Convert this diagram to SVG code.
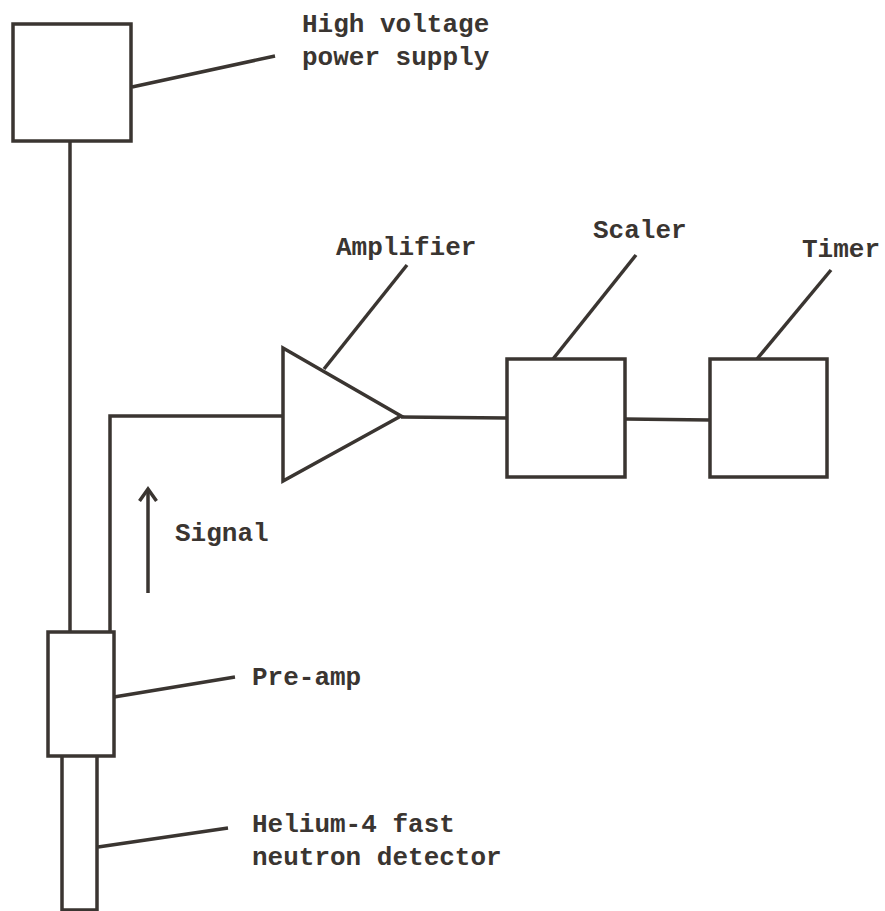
<svg xmlns="http://www.w3.org/2000/svg" width="885" height="911" viewBox="0 0 885 911">
<defs>
<style>
.box{fill:none;stroke:#3a3531;stroke-width:3.5;stroke-linejoin:miter}
.ln{fill:none;stroke:#3a3531;stroke-width:3.5;stroke-linecap:butt}
.lbl{font-family:"Liberation Mono","DejaVu Sans Mono",monospace;font-size:26px;font-weight:bold;fill:#3a3531}
</style>
<marker id="arr" viewBox="0 0 20 20" refX="15" refY="10" markerWidth="20" markerHeight="20" markerUnits="userSpaceOnUse" orient="auto">
<path d="M3,1.5 L15,10 L3,18.5" fill="none" stroke="#3a3531" stroke-width="3.5" stroke-linejoin="miter"/>
</marker>
</defs>
<rect width="885" height="911" fill="#ffffff"/>
<g id="connectors">
<line class="ln" x1="70" y1="141" x2="70" y2="632"/>
<polyline class="ln" points="110,632 110,416 283,416"/>
<line class="ln" x1="401" y1="417" x2="507" y2="418"/>
<line class="ln" x1="625" y1="419" x2="710" y2="420"/>
<line class="ln" x1="148" y1="593" x2="148" y2="489" marker-end="url(#arr)"/>
<line class="ln" x1="132" y1="87" x2="275" y2="56"/>
<line class="ln" x1="324" y1="369" x2="407" y2="265"/>
<line class="ln" x1="553" y1="359" x2="636" y2="255"/>
<line class="ln" x1="757" y1="359" x2="831" y2="270"/>
<line class="ln" x1="114" y1="697" x2="235" y2="677"/>
<line class="ln" x1="98" y1="847" x2="228" y2="828"/>
</g>
<g id="hv">
<rect class="box" x="13" y="24" width="118" height="117"/>
<text class="lbl" x="302" y="32">High voltage</text>
<text class="lbl" x="302" y="65">power supply</text>
</g>
<g id="amplifier">
<polygon class="box" points="283,348 283,481 401,416"/>
<text class="lbl" x="336" y="255">Amplifier</text>
</g>
<g id="scaler">
<rect class="box" x="507" y="359" width="118" height="118"/>
<text class="lbl" x="593" y="238">Scaler</text>
</g>
<g id="timer">
<rect class="box" x="710" y="359" width="117" height="118"/>
<text class="lbl" x="802" y="257">Timer</text>
</g>
<g id="signal">
<text class="lbl" x="175" y="541">Signal</text>
</g>
<g id="preamp">
<rect class="box" x="48" y="632" width="66" height="124"/>
<text class="lbl" x="252" y="685">Pre-amp</text>
</g>
<g id="detector">
<polyline class="box" points="62,756 62,910 97,910 97,756"/>
<text class="lbl" x="252" y="832">Helium-4 fast</text>
<text class="lbl" x="252" y="865">neutron detector</text>
</g>
</svg>
